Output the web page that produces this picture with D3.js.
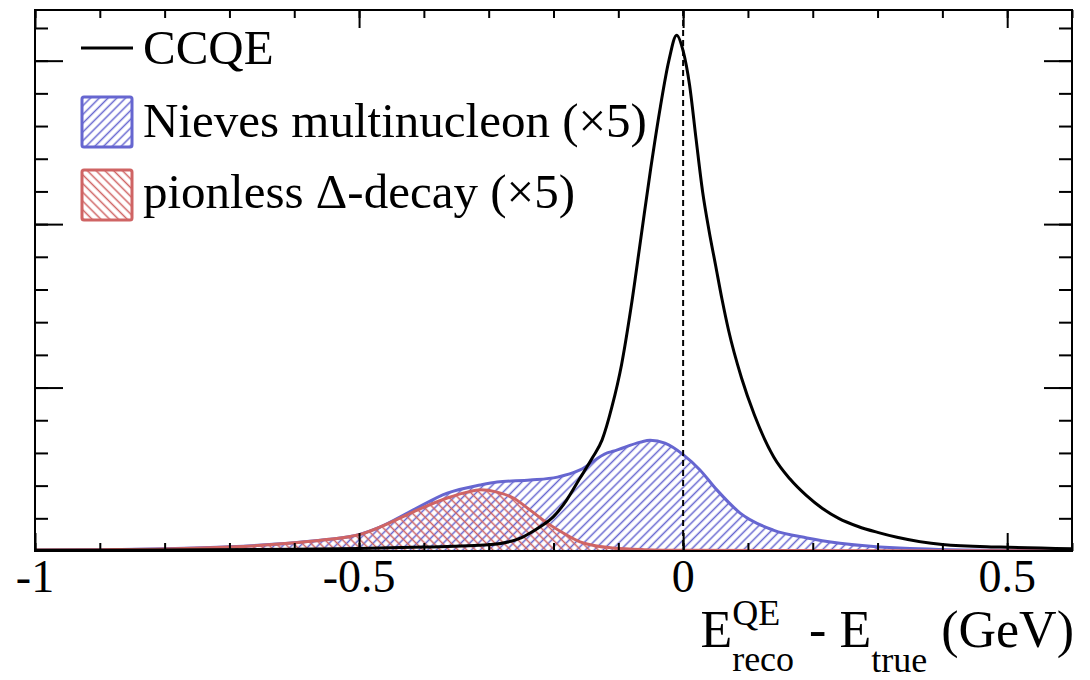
<!DOCTYPE html>
<html lang="en">
<head>
<meta charset="utf-8">
<title>Ereco - Etrue</title>
<script src="https://cdn.jsdelivr.net/npm/d3@7"></script>
<style>
  body { margin: 0; background: #fff; }
  text { font-family: "Liberation Serif", "DejaVu Serif", serif; white-space: pre; }
</style>
</head>
<body>
<script>
// Erec - Etrue (GeV), y in arbitrary units (one minor tick = 1)
var ccqeX = [-1.0, -0.8, -0.6, -0.5, -0.4, -0.3, -0.25, -0.236, -0.22, -0.2, -0.18, -0.16, -0.14, -0.125, -0.11, -0.095,
             -0.08, -0.065, -0.05, -0.035, -0.022, -0.01, 0.0, 0.01, 0.02, 0.03, 0.04, 0.05, 0.06, 0.07, 0.09,
             0.11, 0.14, 0.165, 0.19, 0.215, 0.24, 0.27, 0.3, 0.33, 0.4, 0.49, 0.6];
var ccqeY = [0.02, 0.03, 0.05, 0.08, 0.12, 0.19, 0.4, 0.55, 0.75, 1.05, 1.55, 2.2, 2.85, 3.4, 4.4, 5.7,
             7.5, 9.6, 11.7, 13.6, 15.0, 15.78, 15.3, 14.25, 12.6, 11.0, 9.8, 8.75, 7.7, 6.76, 5.3,
             4.16, 2.87, 2.2, 1.7, 1.3, 1.0, 0.75, 0.57, 0.42, 0.2, 0.12, 0.07];

var nievesX = [-1.0, -0.9, -0.8, -0.7, -0.6, -0.55, -0.5, -0.468, -0.417, -0.364, -0.313, -0.287, -0.236, -0.194,
               -0.159, -0.117, -0.108, -0.066, -0.051, -0.028, 0.0, 0.026, 0.052, 0.088, 0.139, 0.191, 0.242,
               0.35, 0.5, 0.6];
var nievesY = [0.02, 0.04, 0.07, 0.13, 0.25, 0.35, 0.5, 0.73, 1.25, 1.77, 2.02, 2.11, 2.17, 2.26,
               2.48, 3.0, 3.05, 3.33, 3.39, 3.3, 2.95, 2.48, 1.87, 1.16, 0.64, 0.40, 0.24,
               0.08, 0.02, 0.01];

var deltaX = [-1.0, -0.9, -0.8, -0.7, -0.6, -0.55, -0.5, -0.468, -0.417, -0.364, -0.333, -0.313, -0.287, -0.262,
              -0.236, -0.21, -0.185, -0.159, -0.133, -0.108, -0.06, 0.0, 0.3, 0.6];
var deltaY = [0.03, 0.04, 0.06, 0.12, 0.25, 0.35, 0.5, 0.73, 1.19, 1.62, 1.80, 1.87, 1.80, 1.62,
              1.25, 0.86, 0.55, 0.28, 0.15, 0.09, 0.04, 0.02, 0.01, 0.01];

var xLabels = [-1, -0.5, 0, 0.5];
var xMinor = d3.range(-10, 7).map(function(i){ return i / 10; });
var yMinor = d3.range(1, 17);
var yMajor = [5, 10, 15];

var legendNames = ["CCQE", "Nieves multinucleon (\u00d75)", "pionless \u0394-decay (\u00d75)"];

var w = 1090, h = 680;
var pL = 35, pR = 1072, pT = 10, pB = 551;

var blue = "#6666d0", red = "#cf6464";

var x = d3.scaleLinear().domain([-1, 0.6]).range([pL, pR]);
var y = d3.scaleLinear().domain([0, 16.55]).range([pB, pT]);

var svg = d3.select("body").append("svg")
    .attr("width", w)
    .attr("height", h);

var defs = svg.append("defs");
function hatch(id, color, angle) {
  var p = defs.append("pattern")
      .attr("id", id)
      .attr("patternUnits", "userSpaceOnUse")
      .attr("width", 6.2)
      .attr("height", 6.2)
      .attr("patternTransform", "rotate(" + angle + ")");
  p.append("line")
      .attr("x1", 3.1).attr("y1", -1)
      .attr("x2", 3.1).attr("y2", 7.2)
      .attr("stroke", color)
      .attr("stroke-width", 1.5);
}
hatch("hBlue", blue, 45);
hatch("hRed", red, -45);

defs.append("clipPath").attr("id", "frame")
  .append("rect")
    .attr("x", pL).attr("y", pT)
    .attr("width", pR - pL).attr("height", pB - pT);

var plot = svg.append("g").attr("clip-path", "url(#frame)");

function pts(xs, ys) {
  return xs.map(function(v, i){ return [v, ys[i]]; });
}

var area = d3.area()
    .x(function(d){ return x(d[0]); })
    .y0(y(0))
    .y1(function(d){ return y(d[1]); })
    .curve(d3.curveMonotoneX);

var line = d3.line()
    .x(function(d){ return x(d[0]); })
    .y(function(d){ return y(d[1]); })
    .curve(d3.curveMonotoneX);

var nieves = pts(nievesX, nievesY);
var delta = pts(deltaX, deltaY);
var ccqe = pts(ccqeX, ccqeY);

plot.append("path").attr("d", area(nieves)).attr("fill", "url(#hBlue)");
plot.append("path").attr("d", line(nieves)).attr("fill", "none")
    .attr("stroke", blue).attr("stroke-width", 3);

plot.append("path").attr("d", area(delta)).attr("fill", "url(#hRed)");
plot.append("path").attr("d", line(delta)).attr("fill", "none")
    .attr("stroke", red).attr("stroke-width", 3);

plot.append("path").attr("d", line(ccqe)).attr("fill", "none")
    .attr("stroke", "#000").attr("stroke-width", 3);

// dashed line at zero
svg.append("line")
    .attr("x1", x(0)).attr("x2", x(0))
    .attr("y1", pT).attr("y2", pB)
    .attr("stroke", "#000")
    .attr("stroke-width", 2)
    .attr("stroke-dasharray", "6,4");

// axes: ticks only, labels drawn separately
function ticks(axis, tr) {
  var g = svg.append("g").attr("transform", tr).call(axis);
  g.select(".domain").remove();
  g.selectAll(".tick line").attr("stroke", "#000").attr("stroke-width", 2);
  g.selectAll(".tick text").remove();
  return g;
}
ticks(d3.axisBottom(x).tickValues(xMinor).tickSize(-8), "translate(0," + pB + ")");
ticks(d3.axisBottom(x).tickValues(xLabels).tickSize(-18), "translate(0," + pB + ")");
ticks(d3.axisTop(x).tickValues(xMinor).tickSize(-8), "translate(0," + pT + ")");
ticks(d3.axisTop(x).tickValues(xLabels).tickSize(-18), "translate(0," + pT + ")");
ticks(d3.axisLeft(y).tickValues(yMinor).tickSize(-13), "translate(" + pL + ",0)");
ticks(d3.axisLeft(y).tickValues(yMajor).tickSize(-28), "translate(" + pL + ",0)");
ticks(d3.axisRight(y).tickValues(yMinor).tickSize(-13), "translate(" + pR + ",0)");
ticks(d3.axisRight(y).tickValues(yMajor).tickSize(-28), "translate(" + pR + ",0)");

svg.append("rect")
    .attr("x", pL).attr("y", pT)
    .attr("width", pR - pL).attr("height", pB - pT)
    .attr("fill", "none")
    .attr("stroke", "#000")
    .attr("stroke-width", 2);

svg.selectAll("text.xl")
    .data(xLabels)
  .enter().append("text")
    .attr("class", "xl")
    .attr("x", function(d){ return x(d); })
    .attr("y", 592)
    .attr("text-anchor", "middle")
    .attr("font-size", "46px")
    .text(function(d){ return d; });

// axis title: E^QE_reco - E_true (GeV)
var title = svg.append("g");
function piece(txt, size, base, px) {
  var t = title.append("text")
      .attr("x", px).attr("y", base)
      .attr("font-size", size + "px")
      .text(txt);
  return t.node().getComputedTextLength();
}
var cx = 0;
cx += piece("E", 52, 0, cx);
var wa = piece("QE", 36, -22, cx);
var wb = piece("reco", 36, 24, cx);
cx += Math.max(wa, wb) + 2;
cx += piece(" - E", 52, 0, cx);
cx += piece("true", 36, 25, cx) + 1;
cx += piece(" (GeV)", 52, 0, cx);
title.attr("transform", "translate(" + (1074 - cx) + ",647)");

// legend
var leg = svg.append("g");
leg.append("line")
    .attr("x1", 81).attr("x2", 133)
    .attr("y1", 48).attr("y2", 48)
    .attr("stroke", "#000").attr("stroke-width", 3);
[["url(#hBlue)", blue, 97], ["url(#hRed)", red, 170]].forEach(function(b){
  leg.append("rect")
      .attr("x", 82).attr("y", b[2])
      .attr("width", 50).attr("height", 50)
      .attr("rx", 2)
      .attr("fill", b[0])
      .attr("stroke", b[1])
      .attr("stroke-width", 3);
});
leg.selectAll("text.lg")
    .data(legendNames)
  .enter().append("text")
    .attr("class", "lg")
    .attr("x", 143)
    .attr("y", function(d, i){ return [64, 137, 208][i]; })
    .attr("font-size", "49px")
    .text(function(d){ return d; });
</script>
</body>
</html>
